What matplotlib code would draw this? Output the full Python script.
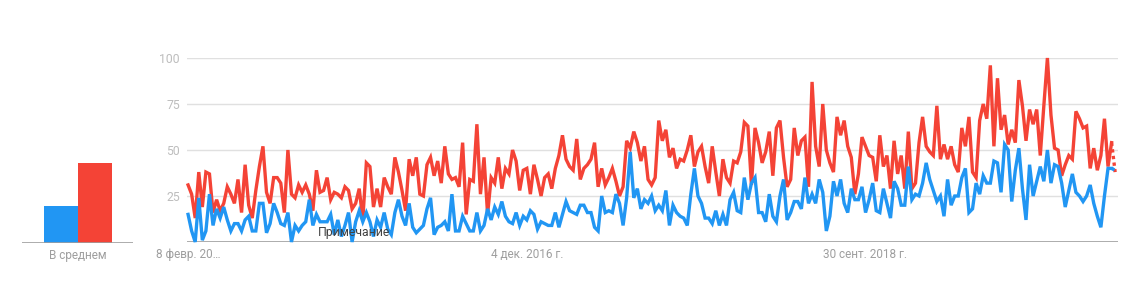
import matplotlib
matplotlib.use("Agg")
import matplotlib.pyplot as plt
import numpy as np

plt.rcParams['font.family'] = ['Roboto', 'DejaVu Sans']

# weekly interest, 8 Feb 2015 onwards
red_vals = [
    31, 26, 13, 38, 19, 38, 37, 16, 23, 17, 21, 30, 26, 21, 34, 16, 42, 20, 13, 28,
    41, 52, 27, 21, 35, 35, 32, 16, 50, 26, 24, 31, 27, 31, 26, 17, 39, 27, 28, 35,
    23, 27, 26, 24, 30, 28, 18, 21, 29, 12, 43, 41, 19, 29, 19, 35, 30, 26, 46, 38,
    28, 17, 45, 36, 46, 26, 25, 42, 46, 36, 44, 32, 52, 37, 34, 35, 30, 54, 15, 34,
    33, 64, 26, 46, 15, 35, 32, 46,
    29, 40, 37, 50, 44, 28, 39, 40, 26, 42, 34, 25, 35, 37, 29, 40, 47, 58, 45, 41,
    39, 56, 34, 40, 42, 45, 54, 30, 40, 31, 35, 40, 33, 25, 30, 55, 51, 60, 54, 44,
    52, 34, 31, 35, 66, 55, 61, 46, 51, 40, 45, 44, 50, 58, 41, 49, 52, 41, 32, 52,
    38, 25, 45, 35, 32, 44, 43, 49, 65, 63, 31, 62, 54, 43, 49, 60, 36, 62, 66, 46,
    30, 34, 62, 47, 55, 57, 30, 87, 52, 41, 75, 50, 43,
    38, 68, 58, 66, 52, 46, 26, 37, 57, 52, 47, 46, 33, 58, 41, 47, 29, 55, 37, 47,
    29, 60, 29, 32, 54, 68, 52, 49, 47, 74, 45, 53, 45, 52, 42, 38, 62, 52, 68, 38,
    35, 66, 75, 67, 96, 52, 89, 61, 69, 53, 61, 54, 88, 74, 55, 72, 64, 72, 47, 74,
    100, 69, 51, 50, 36, 42, 47, 45, 71, 67, 62, 63, 40, 51, 39, 47, 67, 41, 54, 38,
]
blue_vals = [
    15, 6, 0, 24, 1, 6, 26, 9, 18, 13, 19, 12, 6, 10, 10, 6, 12, 14, 6, 6,
    21, 21, 5, 10, 21, 16, 10, 9, 16, 0, 9, 6, 9, 11, 23, 9, 15, 11, 11, 11,
    15, 4, 12, 3, 9, 16, 0, 11, 17, 11, 16, 11, 3, 12, 8, 16, 7, 4, 16, 23,
    14, 9, 21, 8, 5, 7, 9, 18, 24, 4, 8, 9, 11, 6, 26, 6, 6, 14, 10, 6,
    6, 16, 6, 9, 18, 12, 19, 15,
    22, 14, 11, 10, 16, 9, 14, 12, 17, 15, 7, 11, 10, 9, 9, 16, 8, 15, 22, 17,
    16, 15, 20, 20, 16, 16, 8, 6, 25, 16, 17, 16, 26, 21, 9, 24, 49, 24, 29, 18,
    23, 21, 25, 17, 20, 17, 28, 9, 20, 16, 14, 13, 9, 26, 40, 25, 21, 13, 13, 10,
    17, 9, 15, 9, 23, 27, 17, 16, 35, 23, 32, 35, 16, 16, 11, 26, 14, 11, 25, 34,
    12, 16, 22, 22, 18, 35, 21, 26, 21, 34, 27, 6, 14,
    33, 25, 34, 21, 16, 29, 23, 23, 30, 16, 23, 32, 17, 16, 29, 21, 13, 33, 29, 20,
    20, 41, 23, 26, 25, 32, 43, 34, 28, 22, 25, 14, 34, 20, 25, 25, 35, 40, 16, 18,
    32, 26, 36, 32, 32, 44, 43, 27, 53, 50, 22, 39, 51, 29, 12, 42, 25, 33, 41, 33,
    50, 32, 42, 41, 32, 19, 28, 37, 27, 25, 22, 25, 31, 21, 14, 8, 25, 40, 40, 39,
]
avg_vals = [20, 43]
x_tick_pos = [0, 95, 190]
x_tick_labels = ["8 февр. 20…", "4 дек. 2016 г.", "30 сент. 2018 г."]
y_ticks = [25, 50, 75, 100]

BLUE = "#2196F3"
RED = "#F44336"
W, H = 1143, 283

fig = plt.figure(figsize=(W / 100, H / 100), dpi=100)

def px_axes(x0, x1, ytop, ybot):
    return fig.add_axes([x0 / W, (H - ybot) / H, (x1 - x0) / W, (ybot - ytop) / H])

# main line chart
ax = px_axes(187, 1118, 58, 242)
n = len(red_vals)
weeks = np.arange(n)
ax.set_xlim(-0.3, (n - 1) + 0.8)
ax.set_ylim(0, 100)
for yv in y_ticks:
    ax.axhline(yv, color="#e0e0e0", lw=1, zorder=0)
ax.axhline(0, color="#9e9e9e", lw=1.2, zorder=0)

lw = 2.4
ax.plot(weeks[:-1], blue_vals[:-1], color=BLUE, lw=lw, clip_on=False, zorder=3,
        solid_joinstyle="miter")
ax.plot(weeks[-2:], blue_vals[-2:], color=BLUE, lw=lw, ls=(0, (1, 1)), clip_on=False, zorder=3)
ax.plot(weeks[:-1], red_vals[:-1], color=RED, lw=lw, clip_on=False, zorder=2,
        solid_joinstyle="miter")
ax.plot(weeks[-2:], red_vals[-2:], color=RED, lw=lw, ls=(0, (1, 1)), clip_on=False, zorder=2)

for s in ax.spines.values():
    s.set_visible(False)
ax.set_yticks(y_ticks)
ax.set_yticklabels([str(v) for v in y_ticks], color="#bdbdbd", fontsize=8.8)
ax.tick_params(axis="y", length=0, pad=5)
ax.set_xticks(x_tick_pos)
ax.set_xticklabels(x_tick_labels, color="#9e9e9e", fontsize=8.5)
ax.tick_params(axis="x", length=0, pad=4)

ax.text(46.5, 5, "Примечание", ha="center", va="center", fontsize=8.8,
        color="#424242", zorder=5)

# average bars
bx = px_axes(22, 133, 58, 243)
bx.bar([0, 1], avg_vals, width=1.0, color=[BLUE, RED])
bx.set_xlim(-1.147, 2.118)
bx.set_ylim(0, 100)
bx.axhline(0, color="#9e9e9e", lw=1.2)
for s in bx.spines.values():
    s.set_visible(False)
bx.set_yticks([])
bx.set_xticks([0.5])
bx.set_xticklabels(["В среднем"], color="#9e9e9e", fontsize=8.5)
bx.tick_params(axis="x", length=0, pad=4)

fig.savefig("out.png", dpi=100, facecolor="white")
